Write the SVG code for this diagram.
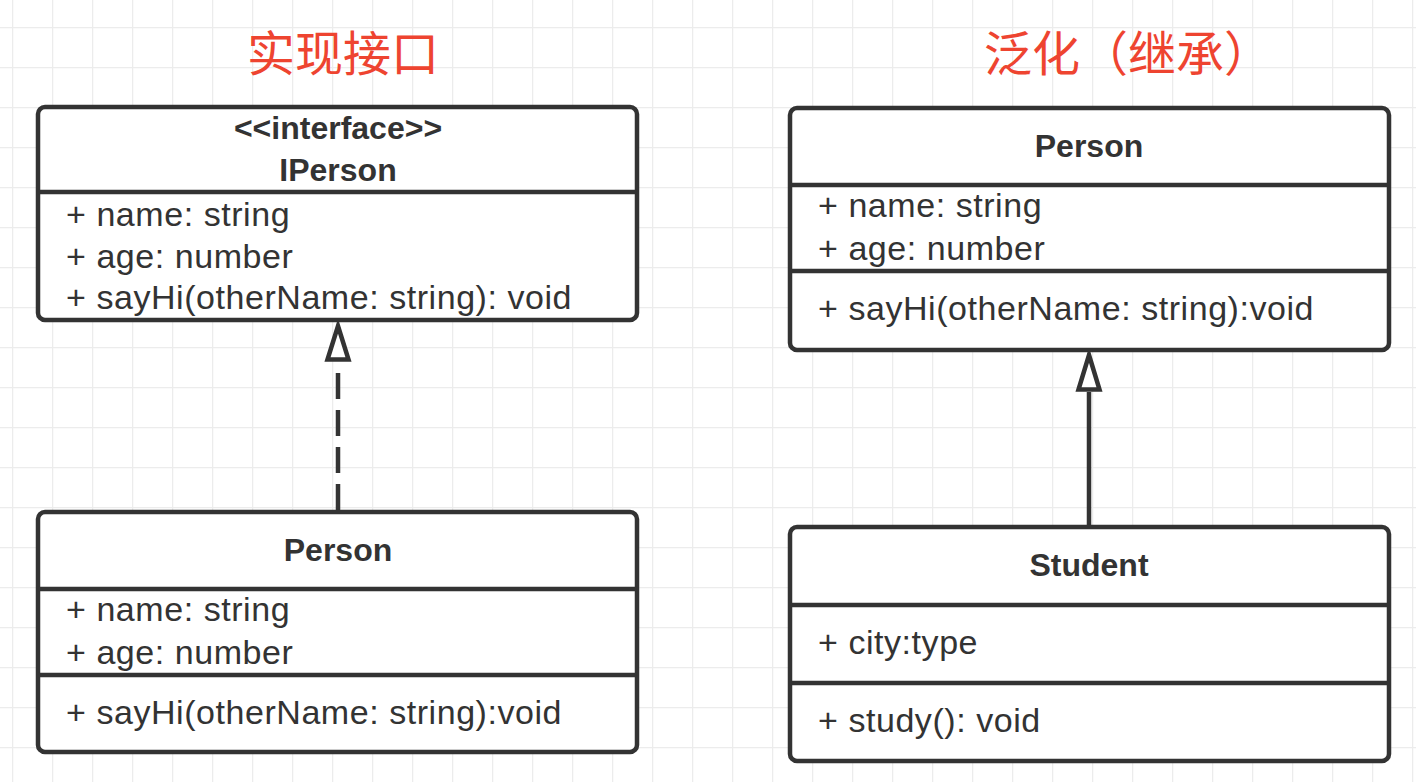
<svg xmlns="http://www.w3.org/2000/svg" width="1416" height="782" viewBox="0 0 1416 782">
  <defs>
    <pattern id="grid" x="12" y="27" width="40" height="40" patternUnits="userSpaceOnUse">
      <path d="M0 0 H40 M0 0 V40" fill="none" stroke="#ececec" stroke-width="2.5"/>
    </pattern>
    <style>
      .box { fill: #ffffff; stroke: #333333; stroke-width: 4.5; }
      .div { stroke: #333333; stroke-width: 4.5; fill: none; }
      .t { font-family: "Liberation Sans", Arial, sans-serif; font-size: 34px; letter-spacing: 0.55px; fill: #333333; }
      .b { font-family: "Liberation Sans", Arial, sans-serif; font-size: 32px; font-weight: bold; fill: #333333; text-anchor: middle; }
      .title { font-family: "Noto Sans CJK SC", sans-serif; font-size: 48px; fill: #ee4430; }
      .conn { stroke: #333333; stroke-width: 4.5; fill: none; }
      .head { fill: #ffffff; stroke: #333333; stroke-width: 4.5; stroke-linejoin: miter; }
    </style>
  </defs>
  <rect x="0" y="0" width="1416" height="782" fill="#ffffff"/>
  <rect x="0" y="0" width="1416" height="782" fill="url(#grid)"/>

  <g id="title-left">
    <text class="title" x="247" y="71">实现接口</text>
  </g>
  <g id="title-right">
    <text class="title" x="984" y="71">泛化（继承）</text>
  </g>

  <g id="connectors">
    <line class="conn" x1="338" y1="510" x2="338" y2="362" stroke-dasharray="26 11"/>
    <path class="head" d="M338 326 L348.5 359.5 L327.5 359.5 Z"/>
    <line class="conn" x1="1089" y1="527" x2="1089" y2="392"/>
    <path class="head" d="M1089 355 L1099.5 389.5 L1078.5 389.5 Z"/>
  </g>

  <g id="iperson">
    <rect class="box" x="38" y="107" width="599" height="213" rx="7"/>
    <line class="div" x1="38" y1="192" x2="637" y2="192"/>
    <text class="b" x="338" y="139">&lt;&lt;interface&gt;&gt;</text>
    <text class="b" x="338" y="181">IPerson</text>
    <text class="t" x="66" y="226">+ name: string</text>
    <text class="t" x="66" y="268">+ age: number</text>
    <text class="t" x="66" y="309">+ sayHi(otherName: string): void</text>
  </g>

  <g id="person-left">
    <rect class="box" x="38" y="512" width="599" height="240" rx="7"/>
    <line class="div" x1="38" y1="589" x2="637" y2="589"/>
    <line class="div" x1="38" y1="675" x2="637" y2="675"/>
    <text class="b" x="338" y="561">Person</text>
    <text class="t" x="66" y="621">+ name: string</text>
    <text class="t" x="66" y="664">+ age: number</text>
    <text class="t" x="66" y="724">+ sayHi(otherName: string):void</text>
  </g>

  <g id="person-right">
    <rect class="box" x="790" y="108" width="599" height="242" rx="7"/>
    <line class="div" x1="790" y1="185" x2="1389" y2="185"/>
    <line class="div" x1="790" y1="271" x2="1389" y2="271"/>
    <text class="b" x="1089" y="157">Person</text>
    <text class="t" x="818" y="217">+ name: string</text>
    <text class="t" x="818" y="260">+ age: number</text>
    <text class="t" x="818" y="320">+ sayHi(otherName: string):void</text>
  </g>

  <g id="student">
    <rect class="box" x="790" y="527" width="599" height="234" rx="7"/>
    <line class="div" x1="790" y1="605" x2="1389" y2="605"/>
    <line class="div" x1="790" y1="683" x2="1389" y2="683"/>
    <text class="b" x="1089" y="576">Student</text>
    <text class="t" x="818" y="654">+ city:type</text>
    <text class="t" x="818" y="732">+ study(): void</text>
  </g>
</svg>
